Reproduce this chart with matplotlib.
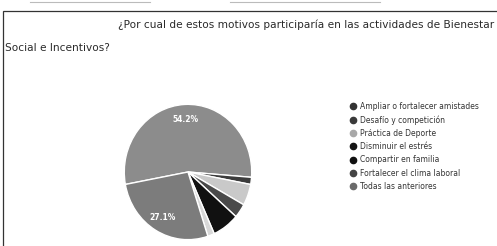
import matplotlib.pyplot as plt
from matplotlib.lines import Line2D
from matplotlib.patches import Rectangle

# data
labels = ["Ampliar o fortalecer amistades", "Desafío y competición", "Práctica de Deporte",
          "Disminuir el estrés", "Compartir en familia", "Fortalecer el clima laboral",
          "Todas las anteriores"]
values = [54.2, 1.7, 5.1, 3.4, 6.8, 1.7, 27.1]
slice_colors = ["#8c8c8c", "#3c3c3c", "#c9c9c9", "#4a4a4a", "#111111", "#d8d8d8", "#7c7c7c"]
legend_colors = ["#333333", "#3a3a3a", "#a8a8a8", "#151515", "#101010", "#444444", "#6a6a6a"]
title1 = "¿Por cual de estos motivos participaría en las actividades de Bienestar"
title2 = "Social e Incentivos?"

W, H = 497, 246
fig = plt.figure(figsize=(W / 100, H / 100), dpi=100)
fig.patch.set_facecolor("white")

# scanned frame
fig.add_artist(Rectangle((3 / W, -0.2), 1.2, (H - 11) / H + 0.2, transform=fig.transFigure,
                         fill=False, edgecolor="#333333", linewidth=0.9))
fig.add_artist(Line2D([30 / W, 150 / W], [1 - 2 / H, 1 - 2 / H], transform=fig.transFigure,
                      color="#bbbbbb", linewidth=0.8))
fig.add_artist(Line2D([230 / W, 380 / W], [1 - 2 / H, 1 - 2 / H], transform=fig.transFigure,
                      color="#bbbbbb", linewidth=0.8))

fig.text(118 / W, 1 - 25 / H, title1, fontsize=7.55, color="#2a2a2a", va="center", ha="left")
fig.text(5 / W, 1 - 48 / H, title2, fontsize=7.55, color="#2a2a2a", va="center", ha="left")

# pie (slightly taller than wide, like the scan)
cx, cy, pw, ph = 188, 172, 130, 138
ax = fig.add_axes([(cx - pw / 2) / W, (H - cy - ph / 2) / H, pw / W, ph / H])
ax.pie(values, colors=slice_colors, startangle=190.6, counterclock=False,
       wedgeprops=dict(edgecolor="white", linewidth=1.0),
       autopct=lambda p: f"{p:.1f}%" if p > 10 else "", pctdistance=0.78,
       textprops=dict(color="white", fontsize=5.5, fontweight="bold"))
ax.set_aspect("auto")
ax.set_xlim(-1.02, 1.02)
ax.set_ylim(-1.02, 1.02)
ax.axis("off")

handles = [Line2D([], [], marker="o", linestyle="", markersize=4.5,
                  markerfacecolor=c, markeredgecolor=c) for c in legend_colors]
fig.legend(handles, labels, loc="upper left", bbox_to_anchor=(345 / W, 1 - 98 / H),
           frameon=False, fontsize=5.5, labelspacing=0.56, handletextpad=0.5,
           handlelength=1.0, borderpad=0, labelcolor="#333333")

fig.savefig("out.png", dpi=100)
